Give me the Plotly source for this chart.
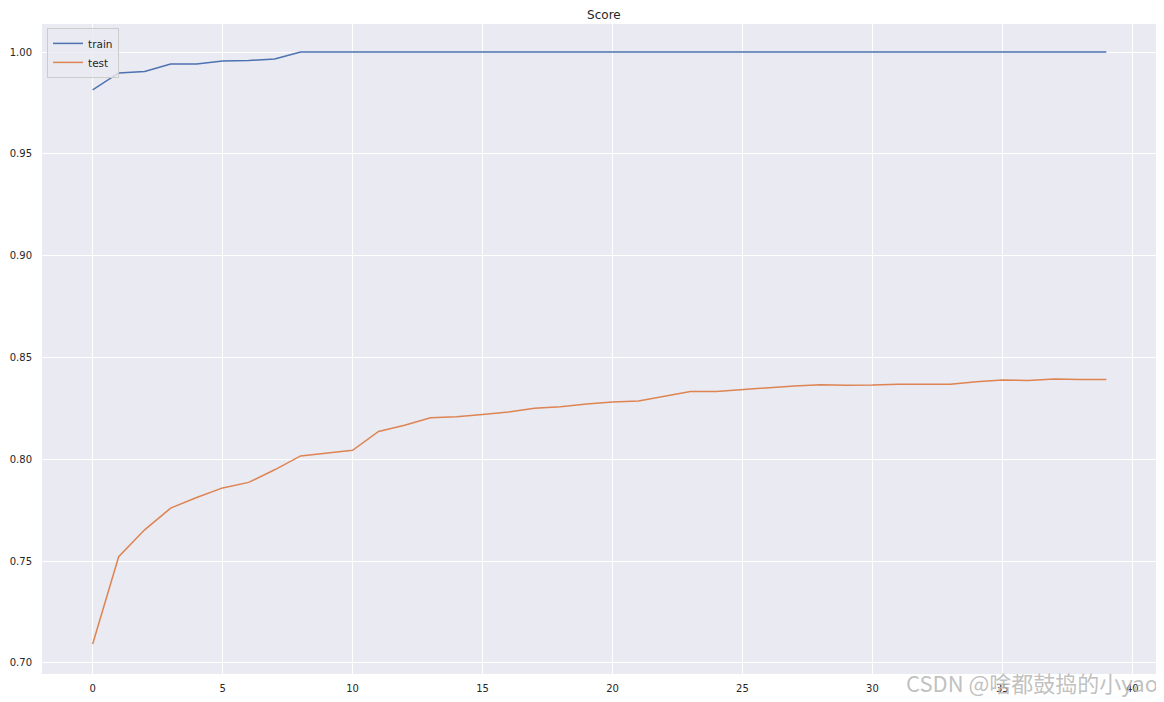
import plotly.graph_objects as go

epochs = list(range(40))
train_score = [0.9814, 0.9897, 0.9904, 0.9941, 0.9941, 0.9956, 0.9958, 0.9966,
               1.0, 1.0, 1.0, 1.0, 1.0, 1.0, 1.0, 1.0, 1.0, 1.0, 1.0, 1.0,
               1.0, 1.0, 1.0, 1.0, 1.0, 1.0, 1.0, 1.0, 1.0, 1.0, 1.0, 1.0,
               1.0, 1.0, 1.0, 1.0, 1.0, 1.0, 1.0, 1.0]
test_score = [0.7092, 0.7521, 0.7653, 0.7760, 0.7812, 0.7859, 0.7886, 0.7948,
              0.8016, 0.8029, 0.8044, 0.8136, 0.8167, 0.8203, 0.8208, 0.8219,
              0.8232, 0.8250, 0.8258, 0.8271, 0.8281, 0.8286, 0.8310, 0.8333,
              0.8333, 0.8343, 0.8350, 0.8360, 0.8366, 0.8363, 0.8364, 0.8368,
              0.8368, 0.8368, 0.8381, 0.8389, 0.8387, 0.8394, 0.8392, 0.8392]
x_ticks = [0, 5, 10, 15, 20, 25, 30, 35, 40]
y_ticks = [0.70, 0.75, 0.80, 0.85, 0.90, 0.95, 1.00]

font_family = "DejaVu Sans"
text_color = "#262626"

fig = go.Figure()
fig.add_trace(go.Scatter(x=epochs, y=train_score, mode="lines", name="train",
                         line=dict(color="#4C72B0", width=1.5)))
fig.add_trace(go.Scatter(x=epochs, y=test_score, mode="lines", name="test",
                         line=dict(color="#DD8452", width=1.5)))

# the page body adds an 8px margin, so the figure is 8px smaller on each axis
fig.update_layout(
    width=1156, height=694,
    margin=dict(l=34, r=7, t=16, b=28, autoexpand=False),
    paper_bgcolor="white",
    plot_bgcolor="#EAEAF2",
    font=dict(family=font_family, size=10, color=text_color),
    title=dict(text="Score", x=0.5155, xanchor="center", y=0.990, yanchor="middle",
               font=dict(family=font_family, size=12, color=text_color),
               automargin=False),
    showlegend=True,
    legend=dict(x=0.0045, y=0.994, xanchor="left", yanchor="top",
                bgcolor="rgba(234,234,242,0.8)", bordercolor="#CCCCCC", borderwidth=1,
                font=dict(family=font_family, size=10.5, color=text_color),
                itemwidth=30, tracegroupgap=0),
)
fig.update_xaxes(range=[-1.95, 40.95], tickvals=x_ticks, showgrid=True,
                 gridcolor="white", gridwidth=1, zeroline=False, showline=False,
                 ticks="outside", ticklen=5, tickcolor="rgba(0,0,0,0)",
                 automargin=False)
fig.update_yaxes(range=[0.6945, 1.01375], tickvals=y_ticks, tickformat=".2f",
                 showgrid=True, gridcolor="white", gridwidth=1, zeroline=False,
                 showline=False, ticks="outside", ticklen=7,
                 tickcolor="rgba(0,0,0,0)", automargin=False)

fig.add_annotation(text="CSDN @啥都鼓捣的小yao", xref="paper", yref="paper",
                   x=1.0027, y=-0.0123, xanchor="right", yanchor="middle",
                   showarrow=False,
                   font=dict(family="Noto Sans CJK SC", size=22,
                             color="rgba(185,185,185,0.9)"))

fig.write_html("out.html")
